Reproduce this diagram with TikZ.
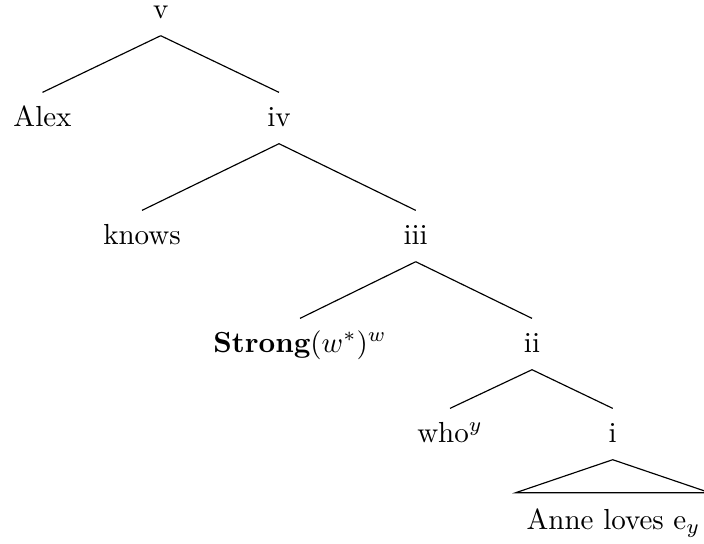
\documentclass[tikz,border=0pt]{standalone}
\usetikzlibrary{calc}
\begin{document}
\begin{tikzpicture}[x=0.3448pt, y=-0.3448pt,
    lbl/.style={anchor=base, text height=7pt, text depth=1.5pt, inner xsep=0pt, inner ysep=4.4pt}]
    \useasboundingbox (0,0) rectangle (704,543);

    % Root
    \node[lbl] (v) at (160.7,18) {v};

    % Level 1
    \node[lbl] (alex) at (42.5,126) {Alex};
    \node[lbl] (iv) at (279,126) {iv};
        \draw (v.south) -- (alex.north);
        \draw (v.south) -- (iv.north);

    % Level 2
    \node[lbl] (knows) at (142,244) {knows};
    \node[lbl] (iii) at (415.7,244) {iii};
        \draw (iv.south) -- (knows.north);
        \draw (iv.south) -- (iii.north);

    % Level 3
    \node[lbl] (strong) at (300,352) {$\textbf{Strong}(w^{*})^{w}$};
    \node[lbl] (ii) at (532,352) {ii};
        \draw (iii.south) -- (strong.north);
        \draw (iii.south) -- (ii.north);

    % Level 4
    \node[lbl] (who) at (450,442) {who$^{y}$};
    \node[lbl] (i) at (612.7,442) {i};
        \draw (ii.south) -- (who.north);
        \draw (ii.south) -- (i.north);

    % Roof over the clause
    \coordinate (roofl) at ($(i.south)+(-97,33)$);
    \coordinate (roofr) at ($(i.south)+(97,33)$);
    \draw (i.south) -- (roofl) -- (roofr) -- cycle;
    \node[lbl] (anne) at (613.5,529) {Anne loves e$_{y}$};
\end{tikzpicture}
\end{document}
